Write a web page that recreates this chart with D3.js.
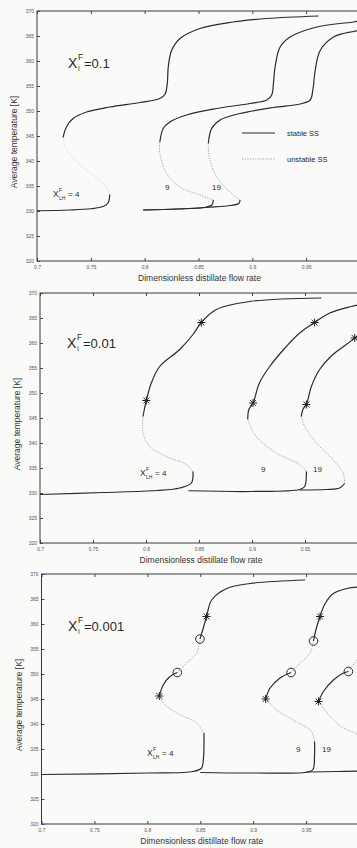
<!DOCTYPE html>
<html><head><meta charset="utf-8">
<script src="https://cdn.jsdelivr.net/npm/d3@7"></script>
<style>html,body{margin:0;padding:0;background:#fafaf9;overflow:hidden}svg{display:block}</style>
</head><body><svg id="c" width="357" height="848"></svg>
<script>
// ---------- tick values / labels ----------
const xTicks = [0.7, 0.75, 0.8, 0.85, 0.9, 0.95, 1.0];
const xTickLabels = ["0.7", "0.75", "0.8", "0.85", "0.9", "0.95", ""];
const yTicks = [320, 325, 330, 335, 340, 345, 350, 355, 360, 365, 370];
const panelXiF = ["0.1", "0.01", "0.001"];
const seriesXLH = ["4", "9", "19"];

// ---------- Panel 1 : X_I^F = 0.1 ----------
const p1_c4_stableLow = [[0.7,330.05],[0.73,330.2],[0.75,330.45],[0.7614,330.9],[0.766,331.6],[0.7676,333.3]];
const p1_c4_unstable = [[0.7676,333.3],[0.764,335],[0.752,337.2],[0.737,339.8],[0.727,342.5],[0.7242,344.7]];
const p1_c4_stableUp = [[0.7242,344.7],[0.7273,346.8],[0.7335,348.5],[0.746,349.8],[0.7676,350.8],[0.7955,351.7],[0.814,352.5],[0.8188,353.3],[0.821,355.5],[0.8219,358.8],[0.825,362.1],[0.8328,364.5],[0.8514,366.5],[0.8824,367.8],[0.9134,368.5],[0.9615,369.0]];
const p1_c9_stableLow = [[0.7986,330.2],[0.83,330.4],[0.855,330.7],[0.8625,331.2],[0.8638,332.2]];
const p1_c9_unstable = [[0.8638,332.2],[0.8514,333.2],[0.8328,334.8],[0.8203,337.5],[0.8141,341.5],[0.8141,343.8]];
const p1_c9_stableUp = [[0.8141,343.8],[0.8172,346.5],[0.8234,347.8],[0.839,349.2],[0.8669,350.5],[0.8979,351.5],[0.9134,352.2],[0.918,353.2],[0.9196,355.5],[0.9211,358.8],[0.9258,362.8],[0.9351,364.8],[0.96,366.8],[0.994,367.8],[1.0,368.0]];
const p1_c19_stableLow = [[0.7986,330.2],[0.83,330.4],[0.86,330.75],[0.88,331.1],[0.8875,331.5],[0.8886,332.2]];
const p1_c19_unstable = [[0.8886,332.2],[0.8793,333.8],[0.8669,336.8],[0.86,340.8],[0.8591,343.5]];
const p1_c19_stableUp = [[0.8591,343.5],[0.8622,346.5],[0.87,348.2],[0.8886,349.5],[0.9196,350.7],[0.9444,351.4],[0.9537,352.2],[0.9562,354.2],[0.9584,358.1],[0.963,362.1],[0.9754,364.8],[0.994,365.9],[1.0,366.1]];

// ---------- Panel 2 : X_I^F = 0.01 ----------
const p2_c4_stableLow = [[0.7,329.7],[0.76,330.1],[0.81,330.5],[0.8318,331.0],[0.8428,332.0],[0.8443,334.3]];
const p2_c4_unstable = [[0.8443,334.3],[0.838,335.7],[0.819,337.3],[0.8035,339.3],[0.7972,342.0],[0.7972,345.3]];
const p2_c4_stableUp = [[0.7972,345.3],[0.7987,347.0],[0.8003,348.5],[0.805,352.0],[0.8129,355.3],[0.8318,358.7],[0.8443,361.7],[0.8522,364.1],[0.8664,366.7],[0.8978,368.3],[0.9654,369.0]];
const p2_c4_hopf = [[0.8003,348.5],[0.8522,364.1]];
const p2_c9_stableLow = [[0.84,330.45],[0.9,330.3],[0.945,330.7],[0.9497,331.3],[0.9513,334.3]];
const p2_c9_unstable = [[0.9513,334.3],[0.945,335.7],[0.923,338.0],[0.904,341.3],[0.896,344.7]];
const p2_c9_stableUp = [[0.896,344.7],[0.897,346.7],[0.901,348.0],[0.907,352.0],[0.9167,355.3],[0.9324,359.3],[0.945,362.0],[0.9591,364.1],[0.9733,366.0],[0.9937,367.3],[1.0,367.6]];
const p2_c9_hopf = [[0.901,348.0],[0.9591,364.1]];
const p2_c19_stableLow = [[0.945,330.6],[0.97,330.7],[0.9827,331.0],[0.9874,331.9]];
const p2_c19_unstable = [[0.9874,331.9],[0.986,334.0],[0.9764,336.7],[0.9607,340.0],[0.9497,343.3],[0.9465,345.3]];
const p2_c19_stableUp = [[0.9465,345.3],[0.948,346.7],[0.9513,347.7],[0.956,351.3],[0.9638,354.7],[0.9764,357.7],[0.989,359.7],[0.9969,361.0],[1.0,361.5]];
const p2_c19_hopf = [[0.9513,347.7],[0.9969,361.0]];

// ---------- Panel 3 : X_I^F = 0.001 ----------
const p3_c4_stableLow = [[0.7,329.9],[0.8,330.2],[0.8434,330.5],[0.8513,331.2],[0.8529,332.8],[0.8535,335.2],[0.8535,338.2]];
const p3_c4_unstableLow = [[0.8535,338.2],[0.8466,340.2],[0.8277,342.2],[0.815,344.2],[0.8113,345.6]];
const p3_c4_stableMid = [[0.8113,345.6],[0.815,347.8],[0.8214,349.5],[0.8283,350.3]];
const p3_c4_unstableMid = [[0.8283,350.3],[0.8371,352.2],[0.8466,354.2],[0.8497,357.0]];
const p3_c4_stableUp = [[0.8497,357.0],[0.8523,358.8],[0.856,361.5],[0.8608,364.8],[0.875,367.1],[0.897,368.1],[0.949,368.8]];
const p3_c4_hopf = [[0.8113,345.6],[0.856,361.5]];
const p3_c4_torus = [[0.8283,350.3],[0.8497,357.0]];
const p3_c9_stableLow = [[0.85,330.3],[0.9,330.2],[0.952,330.4],[0.9565,330.9],[0.958,333.8],[0.958,336.5]];
const p3_c9_unstableLow = [[0.958,336.5],[0.955,338.5],[0.938,340.8],[0.9222,342.8],[0.9118,345.0]];
const p3_c9_stableMid = [[0.9118,345.0],[0.916,347.2],[0.9254,349.2],[0.9358,350.3]];
const p3_c9_unstableMid = [[0.9358,350.3],[0.9443,352.2],[0.9538,354.2],[0.957,356.6]];
const p3_c9_stableUp = [[0.957,356.6],[0.9595,359.0],[0.9632,361.5],[0.968,364.1],[0.9758,366.1],[0.9885,367.1],[1.0,367.4]];
const p3_c9_hopf = [[0.9118,345.0],[0.9632,361.5]];
const p3_c9_torus = [[0.9358,350.3],[0.957,356.6]];
const p3_c19_stableLow = [[0.95,330.4],[0.98,330.5],[1.0,330.6]];
const p3_c19_unstableLow = [[1.0,337.6],[0.9963,338.2],[0.9853,339.2],[0.9727,341.5],[0.9617,344.5]];
const p3_c19_stableMid = [[0.9617,344.5],[0.9664,346.5],[0.9758,348.8],[0.9853,350.2],[0.99,350.5]];
const p3_c19_unstableMid = [[0.99,350.5],[0.995,352.0],[1.0,353.5]];
const p3_c19_hopf = [[0.9617,344.5]];
const p3_c19_torus = [[0.99,350.5]];

// ---------- layout ----------
const panels = [
  {left:37, right:360, top:11, bottom:261, xi:panelXiF[0],
   stable:[p1_c4_stableLow,p1_c4_stableUp,p1_c9_stableLow,p1_c9_stableUp,p1_c19_stableLow,p1_c19_stableUp],
   unstable:[p1_c9_unstable,p1_c19_unstable], faint:[p1_c4_unstable], hopf:[], torus:[],
   lab:{xi:[68,68], lh:[53,197], n9:[165,190], n19:[212,190]}, legend:true},
  {left:40, right:358, top:293, bottom:543, xi:panelXiF[1],
   stable:[p2_c4_stableLow,p2_c4_stableUp,p2_c9_stableLow,p2_c9_stableUp,p2_c19_stableLow,p2_c19_stableUp],
   unstable:[p2_c4_unstable,p2_c9_unstable,p2_c19_unstable], faint:[], hopf:[...p2_c4_hopf,...p2_c9_hopf,...p2_c19_hopf], torus:[],
   lab:{xi:[67,348], lh:[140,476], n9:[261,472], n19:[313,472]}, legend:false},
  {left:41.5, right:359, top:574, bottom:824, xi:panelXiF[2],
   stable:[p3_c4_stableLow,p3_c4_stableMid,p3_c4_stableUp,p3_c9_stableLow,p3_c9_stableMid,p3_c9_stableUp,p3_c19_stableLow,p3_c19_stableMid],
   unstable:[p3_c4_unstableLow,p3_c4_unstableMid,p3_c9_unstableLow,p3_c9_unstableMid,p3_c19_unstableLow,p3_c19_unstableMid], faint:[],
   hopf:[...p3_c4_hopf,...p3_c9_hopf,...p3_c19_hopf], torus:[...p3_c4_torus,...p3_c9_torus,...p3_c19_torus],
   lab:{xi:[68,631], lh:[147,756], n9:[296,752], n19:[322,752]}, legend:false}
];

const svg = d3.select("#c");
const FONT = "'Liberation Sans', Arial, sans-serif";
const dark = "#2b2b2b";

panels.forEach(p => {
  const x = d3.scaleLinear().domain([0.7, 1.0]).range([p.left, p.right]);
  const y = d3.scaleLinear().domain([320, 370]).range([p.bottom, p.top]);
  const g = svg.append("g");
  const line = d3.line().x(d => x(d[0])).y(d => y(d[1])).curve(d3.curveCatmullRom.alpha(0.5));

  // frame
  g.append("rect").attr("x", p.left).attr("y", p.top).attr("width", p.right - p.left).attr("height", p.bottom - p.top)
    .attr("fill", "none").attr("stroke", "#3a3a3a").attr("stroke-width", 1);

  // axes (inward ticks)
  const xb = d3.axisBottom(x).tickValues(xTicks).tickSize(-3).tickPadding(4).tickFormat((d,i) => xTickLabels[i]);
  const xt = d3.axisTop(x).tickValues(xTicks).tickSize(-3).tickFormat("");
  const yl = d3.axisLeft(y).tickValues(yTicks).tickSize(-3).tickPadding(3).tickFormat(d3.format("d"));
  const ax1 = g.append("g").attr("transform", `translate(0,${p.bottom})`).call(xb);
  const ax2 = g.append("g").attr("transform", `translate(0,${p.top})`).call(xt);
  const ax3 = g.append("g").attr("transform", `translate(${p.left},0)`).call(yl);
  [ax1, ax2, ax3].forEach(a => {
    a.select(".domain").remove();
    a.selectAll(".tick line").attr("stroke", "#444");
    a.selectAll(".tick text").attr("fill", "#555").attr("font-size", 5).attr("font-family", FONT);
  });

  // axis titles
  g.append("text").attr("x", (p.left + 320) / 2 + 21).attr("y", p.bottom + 20)
    .attr("text-anchor", "middle").attr("font-size", 8.5).attr("font-family", FONT).attr("fill", "#333")
    .text("Dimensionless distillate flow rate");
  g.append("text").attr("transform", `translate(${p.left - 20},${(p.top + p.bottom) / 2 + 6}) rotate(-90)`)
    .attr("text-anchor", "middle").attr("font-size", 8.5).attr("font-family", FONT).attr("fill", "#333")
    .text("Average temperature [K]");

  // curves
  p.faint.forEach(s => g.append("path").attr("d", line(s)).attr("fill", "none")
    .attr("stroke", "#d6d6d6").attr("stroke-width", 1).attr("stroke-dasharray", "1.2,1.6"));
  p.unstable.forEach(s => g.append("path").attr("d", line(s)).attr("fill", "none")
    .attr("stroke", "#a8a8a8").attr("stroke-width", 1).attr("stroke-dasharray", "1.3,1.3"));
  p.stable.forEach(s => g.append("path").attr("d", line(s)).attr("fill", "none")
    .attr("stroke", dark).attr("stroke-width", 1.2));

  // markers
  p.hopf.forEach(d => {
    const cx = x(d[0]), cy = y(d[1]), r = 4;
    const m = g.append("g").attr("stroke", "#222").attr("stroke-width", 1);
    [[r,0],[0,r],[r*0.72,r*0.72],[r*0.72,-r*0.72]].forEach(v =>
      m.append("line").attr("x1", cx - v[0]).attr("y1", cy - v[1]).attr("x2", cx + v[0]).attr("y2", cy + v[1]));
  });
  p.torus.forEach(d => g.append("circle").attr("cx", x(d[0])).attr("cy", y(d[1])).attr("r", 4.3)
    .attr("fill", "none").attr("stroke", "#2a2a2a").attr("stroke-width", 1));

  // labels
  const t = (xx, yy, s, fs) => g.append("text").attr("x", xx).attr("y", yy).attr("font-size", fs)
      .attr("font-family", FONT).attr("fill", "#2a2a2a").text(s);
  t(p.lab.xi[0], p.lab.xi[1], "X", 14);
  t(p.lab.xi[0] + 10, p.lab.xi[1] - 8, "F", 8.5);
  t(p.lab.xi[0] + 10, p.lab.xi[1] + 3, "I", 6.5);
  t(p.lab.xi[0] + 16, p.lab.xi[1], "=" + p.xi, 13);
  t(p.lab.lh[0], p.lab.lh[1], "X", 8.5);
  t(p.lab.lh[0] + 6, p.lab.lh[1] - 5, "F", 5);
  t(p.lab.lh[0] + 6, p.lab.lh[1] + 3, "LH", 5);
  t(p.lab.lh[0] + 15, p.lab.lh[1], "= " + seriesXLH[0], 8);
  t(p.lab.n9[0], p.lab.n9[1], seriesXLH[1], 8);
  t(p.lab.n19[0], p.lab.n19[1], seriesXLH[2], 8);

  if (p.legend) {
    g.append("line").attr("x1", 242).attr("x2", 275).attr("y1", 133).attr("y2", 133)
      .attr("stroke", dark).attr("stroke-width", 1.2);
    g.append("line").attr("x1", 242).attr("x2", 275).attr("y1", 159).attr("y2", 159)
      .attr("stroke", "#a8a8a8").attr("stroke-width", 1).attr("stroke-dasharray", "1.3,1.3");
    t(287, 136, "stable SS", 7.5);
    t(287, 162, "unstable SS", 7.5);
  }
});
</script>
</body></html>
